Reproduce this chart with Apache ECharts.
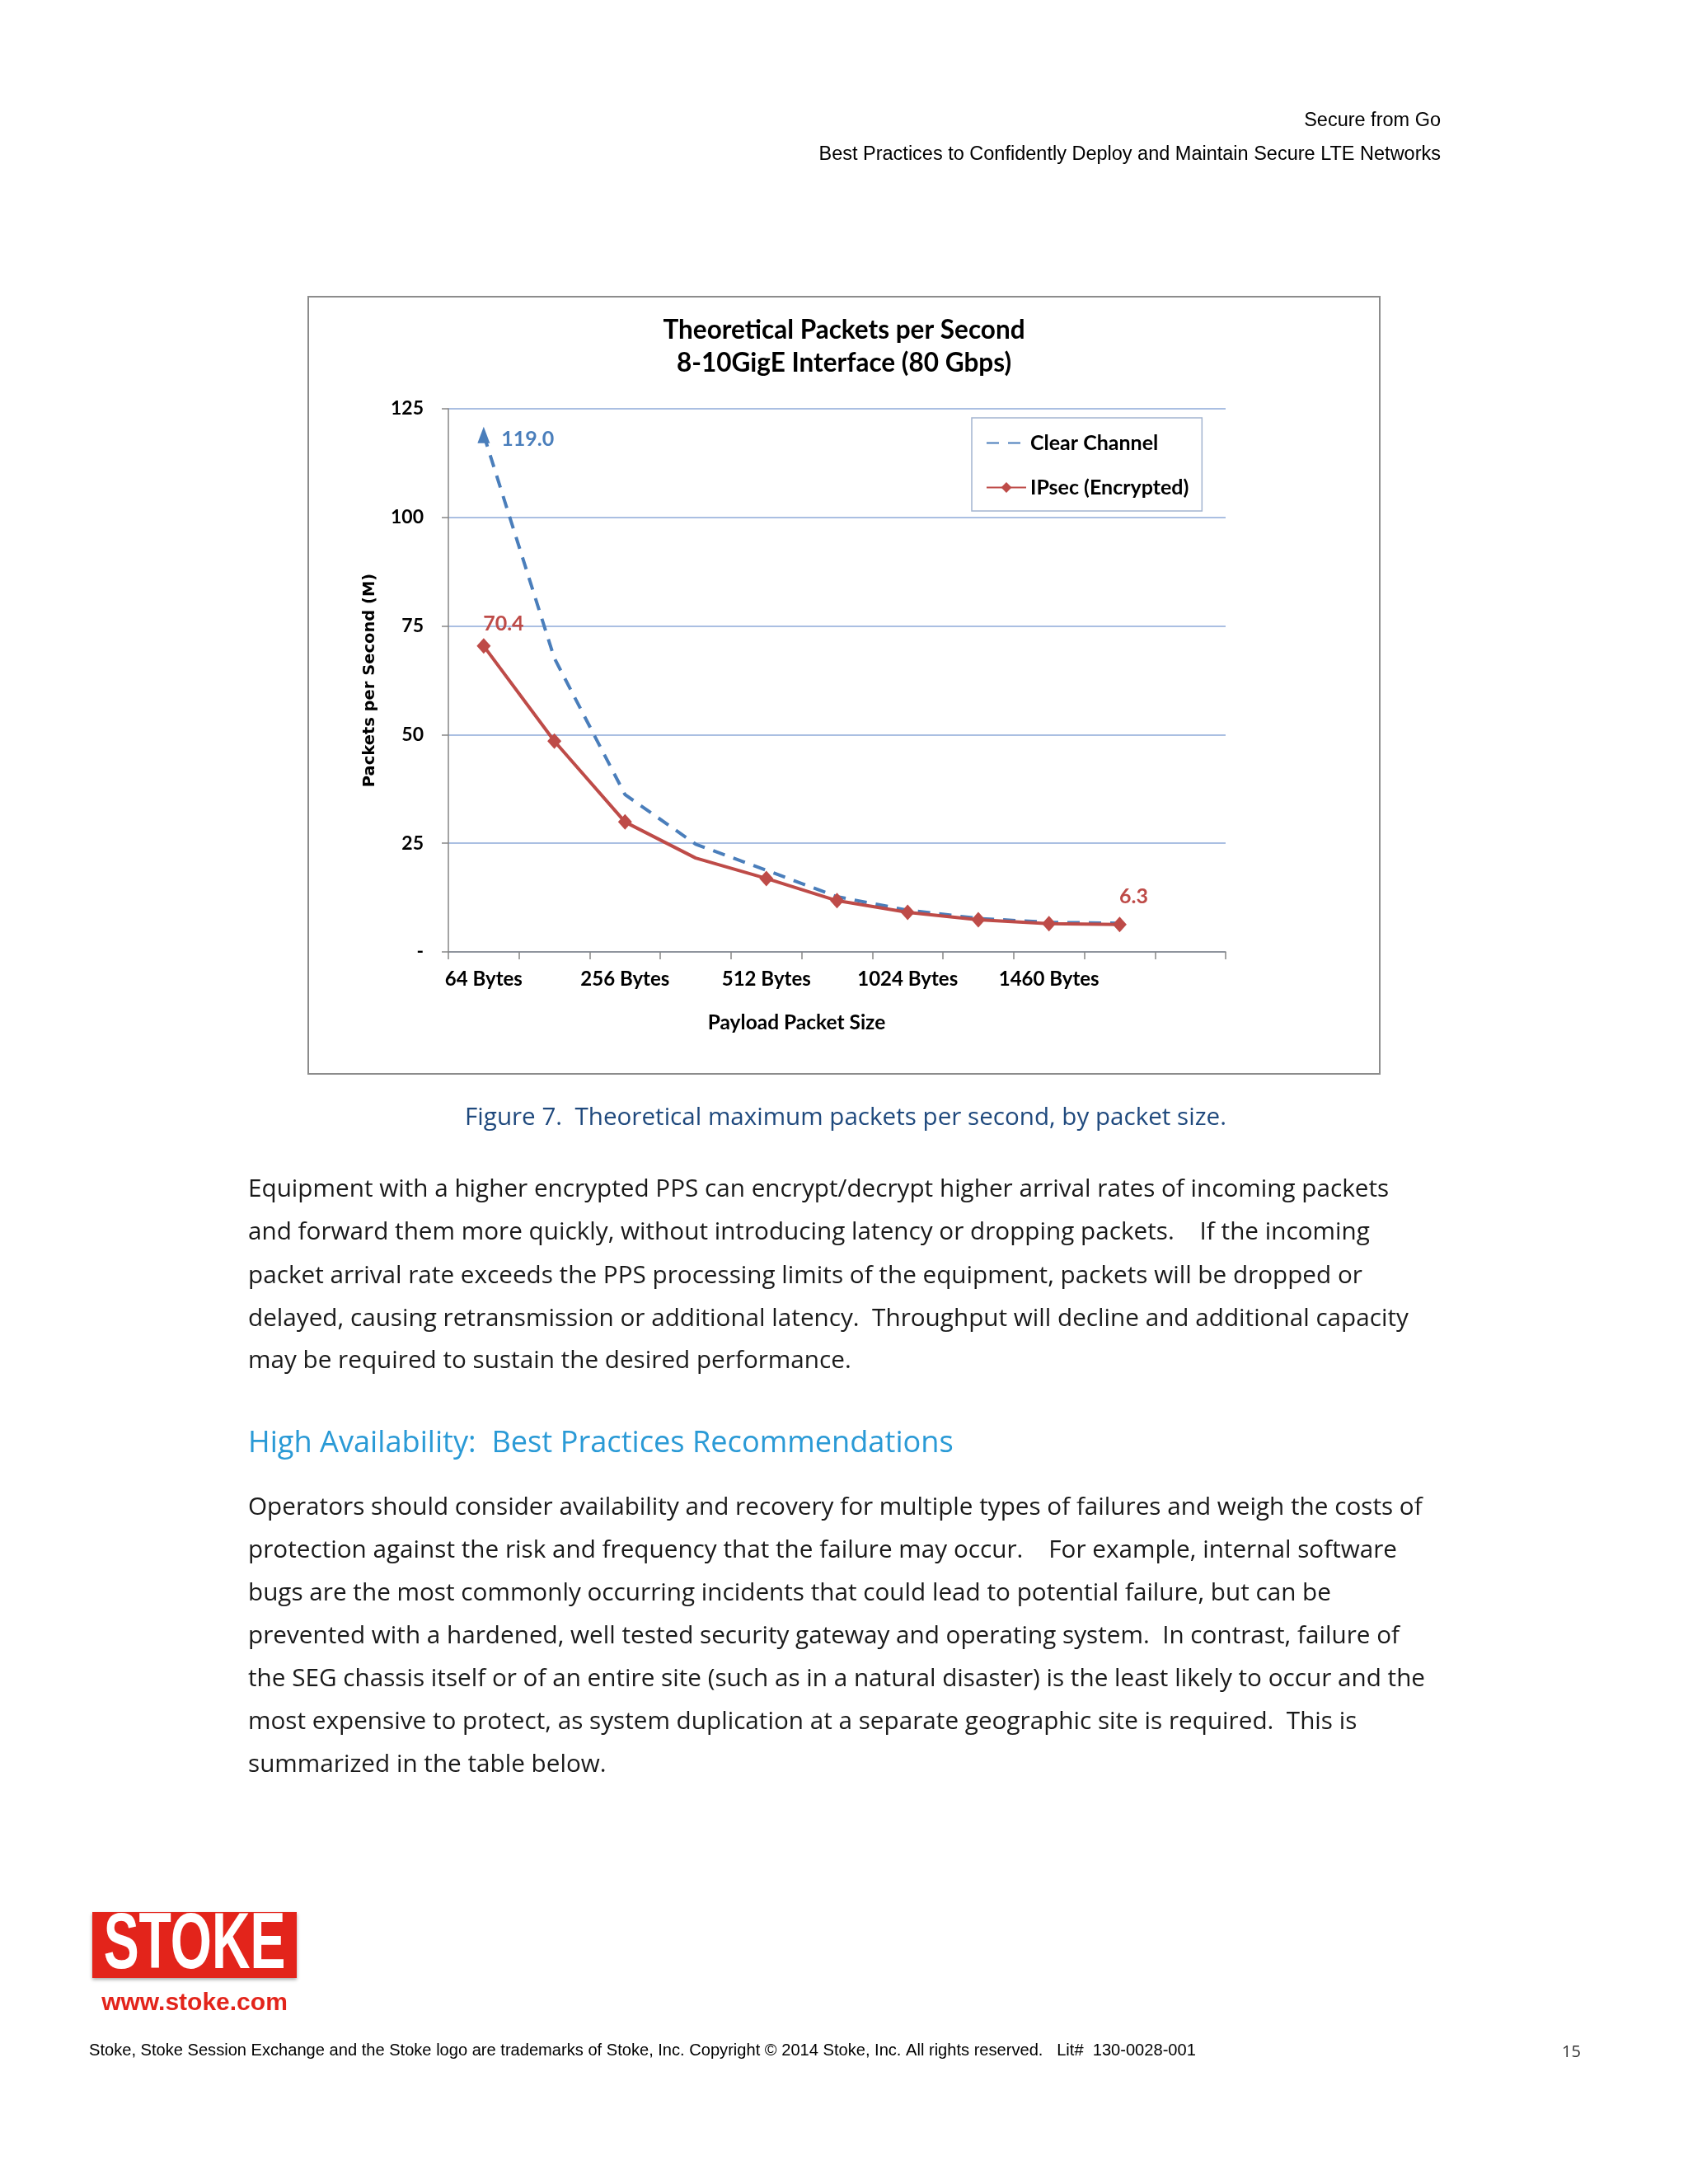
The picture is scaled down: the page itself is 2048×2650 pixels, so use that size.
<!DOCTYPE html>
<html>
<head>
<meta charset="utf-8">
<script src="https://cdn.jsdelivr.net/npm/echarts@6/dist/echarts.min.js"></script>
<style>
html,body{margin:0;padding:0;background:#fff;}
#chart{width:2048px;height:2650px;}
</style>
</head>
<body>
<div id="chart"></div>
<script>
// ---- data ----
const categories = ['64 Bytes', '', '256 Bytes', '', '512 Bytes', '', '1024 Bytes', '', '1460 Bytes', '', ''];
const clearChannel = [119.0, 67.6, 36.2, 24.8, 18.8, 12.7, 9.6, 7.7, 6.8, 6.6];
const ipsec = [70.4, 48.5, 29.9, 21.6, 16.9, 11.8, 9.1, 7.4, 6.5, 6.3];
const yTicks = [0, 25, 50, 75, 100, 125];
const seriesNames = ['Clear Channel', 'IPsec (Encrypted)'];
const chartTitle = 'Theoretical Packets per Second\n8-10GigE Interface (80 Gbps)';
const xName = 'Payload Packet Size';
const yName = 'Packets per Second (M)';

const headerLines = ['Secure from Go', 'Best Practices to Confidently Deploy and Maintain Secure LTE Networks'];
const caption = 'Figure 7.  Theoretical maximum packets per second, by packet size.';
const para1 = [
  'Equipment with a higher encrypted PPS can encrypt/decrypt higher arrival rates of incoming packets',
  'and forward them more quickly, without introducing latency or dropping packets.    If the incoming',
  'packet arrival rate exceeds the PPS processing limits of the equipment, packets will be dropped or',
  'delayed, causing retransmission or additional latency.  Throughput will decline and additional capacity',
  'may be required to sustain the desired performance.'
];
const heading = 'High Availability:  Best Practices Recommendations';
const para2 = [
  'Operators should consider availability and recovery for multiple types of failures and weigh the costs of',
  'protection against the risk and frequency that the failure may occur.    For example, internal software',
  'bugs are the most commonly occurring incidents that could lead to potential failure, but can be',
  'prevented with a hardened, well tested security gateway and operating system.  In contrast, failure of',
  'the SEG chassis itself or of an entire site (such as in a natural disaster) is the least likely to occur and the',
  'most expensive to protect, as system duplication at a separate geographic site is required.  This is',
  'summarized in the table below.'
];
const logoText = 'STOKE';
const logoUrl = 'www.stoke.com';
const footer = 'Stoke, Stoke Session Exchange and the Stoke logo are trademarks of Stoke, Inc. Copyright \u00a9 2014 Stoke, Inc. All rights reserved.   Lit#  130-0028-001';
const pageNo = '15';

// ---- styles ----
const BLUE = '#4A7EBB';
const RED = '#BE4B48';
const CAL = 'Lato, "Open Sans", sans-serif';
const BODY = '"Open Sans", "Noto Sans", sans-serif';
const ARIAL = '"Liberation Sans", Arial, sans-serif';

function txt(text, x, y, font, fill, align, extra) {
  return Object.assign({
    type: 'text', x: x, y: y, silent: true,
    style: { text: text, font: font, fill: fill, textAlign: align || 'left', align: align || 'left',
             textVerticalAlign: 'middle', verticalAlign: 'middle' }
  }, extra || {});
}

const graphics = [];
// chart frame
graphics.push({ type: 'rect', shape: { x: 374, y: 360, width: 1300, height: 943 },
  style: { fill: 'none', stroke: '#8C8C8C', lineWidth: 2 }, silent: true, z: -1 });
// header
graphics.push(txt(headerLines[0], 1748, 147, '23.5px ' + ARIAL, '#000', 'right'));
graphics.push(txt(headerLines[1], 1748, 188, '23.5px ' + ARIAL, '#000', 'right'));
// caption
graphics.push(txt(caption, 1026, 1357, '29.6px ' + BODY, '#1F497D', 'center'));
// paragraphs
const p1y = [1444, 1496, 1549, 1601, 1652];
para1.forEach((l, i) => graphics.push(txt(l, 301, p1y[i], '29.7px ' + BODY, '#1a1a1a', 'left')));
graphics.push(txt(heading, 301, 1752, '36.2px ' + BODY, '#2A9AD6', 'left'));
const p2y = [1830, 1882, 1934, 1986, 2038, 2090, 2142];
para2.forEach((l, i) => graphics.push(txt(l, 301, p2y[i], '29.7px ' + BODY, '#1a1a1a', 'left')));
// logo
graphics.push({ type: 'rect', shape: { x: 112, y: 2320, width: 248, height: 80 },
  style: { fill: '#E3241B', shadowColor: 'rgba(0,0,0,0.35)', shadowBlur: 4, shadowOffsetY: 2 }, silent: true });
graphics.push({ type: 'text', x: 236, y: 2361, scaleX: 0.7, scaleY: 1.05, silent: true,
  style: { text: logoText, font: 'bold 92px ' + ARIAL, fill: '#fff', textAlign: 'center', align: 'center',
           textVerticalAlign: 'middle', verticalAlign: 'middle', shadowColor: 'rgba(0,0,0,0.6)', shadowBlur: 2, shadowOffsetX: 2, shadowOffsetY: 2 } });
graphics.push(txt(logoUrl, 236, 2431, 'bold 30px ' + ARIAL, '#E3241B', 'center'));
// footer
graphics.push(txt(footer, 108, 2488, '20.1px ' + ARIAL, '#000', 'left'));
graphics.push(txt(pageNo, 1895, 2490, '20px ' + BODY, '#333', 'left'));

const chart = echarts.init(document.getElementById('chart'), null, { renderer: 'canvas' });
chart.setOption({
  backgroundColor: '#ffffff',
  animation: false,
  title: {
    text: chartTitle, left: 'center', top: 376,
    textStyle: { fontFamily: CAL, fontWeight: 'bold', fontSize: 31.5, lineHeight: 40, color: '#000' }
  },
  legend: {
    orient: 'vertical', left: 1179, top: 507,
    padding: [18, 16, 16, 17],
    itemWidth: 48, itemHeight: 16, itemGap: 29,
    borderColor: '#A3B4D0', borderWidth: 1.5, backgroundColor: '#fff',
    textStyle: { fontFamily: CAL, fontWeight: 'bold', fontSize: 25, lineHeight: 24, color: '#000' },
    data: [
      { name: seriesNames[0], itemStyle: { opacity: 0 } },
      { name: seriesNames[1] }
    ]
  },
  grid: { left: 544, right: 561, top: 496, bottom: 1495, containLabel: false },
  xAxis: {
    type: 'category', data: categories, boundaryGap: true,
    name: xName, nameLocation: 'middle', nameGap: 74,
    nameTextStyle: { fontFamily: CAL, fontWeight: 'bold', fontSize: 24.5, color: '#000', padding: [0, 98, 0, 0] },
    axisLine: { lineStyle: { color: '#868686', width: 1.5 } },
    axisTick: { show: true, interval: 0, length: 9, lineStyle: { color: '#868686', width: 1.5 } },
    axisLabel: { interval: 0, margin: 21, fontFamily: CAL, fontWeight: 'bold', fontSize: 24, color: '#000' },
    splitLine: { show: false }
  },
  yAxis: {
    type: 'value', min: yTicks[0], max: yTicks[yTicks.length - 1], interval: 25,
    name: yName, nameLocation: 'middle', nameGap: 85, nameRotate: 90,
    nameTextStyle: { fontFamily: '"DejaVu Sans", sans-serif', fontWeight: 'bold', fontSize: 19.5, color: '#000' },
    axisLine: { show: true, lineStyle: { color: '#868686', width: 1.5 } },
    axisTick: { show: true, length: 8, lineStyle: { color: '#868686', width: 1.5 } },
    axisLabel: { margin: 30, fontFamily: CAL, fontWeight: 'bold', fontSize: 23, color: '#000',
      formatter: v => (v === 0 ? '-' : String(v)) },
    splitLine: { show: true, lineStyle: { color: '#8EAAD8', width: 1.5 } }
  },
  series: [
    {
      name: seriesNames[0], type: 'line', symbol: 'none',
      lineStyle: { color: BLUE, width: 4, type: [15, 11] },
      itemStyle: { color: BLUE },
      z: 3,
      data: clearChannel.map((v, i) => i === 0 ? {
        value: v, symbol: 'triangle', symbolSize: [15, 20], itemStyle: { color: BLUE, opacity: 1 },
        label: { show: true, position: 'right', distance: 14, offset: [0, 5], formatter: p => p.value.toFixed(1),
          fontFamily: CAL, fontWeight: 'bold', fontSize: 25, color: BLUE }
      } : v)
    },
    {
      name: seriesNames[1], type: 'line', symbol: 'diamond', symbolSize: [17, 19],
      lineStyle: { color: RED, width: 4 },
      itemStyle: { color: RED },
      z: 4,
      data: ipsec.map((v, i) => {
        if (i === 3) return { value: v, symbol: 'none' };
        if (i === 0) return { value: v, label: { show: true, position: 'top', distance: 5, offset: [24, 0],
          formatter: p => p.value.toFixed(1), fontFamily: CAL, fontWeight: 'bold', fontSize: 25, color: RED } };
        if (i === ipsec.length - 1) return { value: v, label: { show: true, position: 'top', distance: 12, offset: [17, 0],
          formatter: p => p.value.toFixed(1), fontFamily: CAL, fontWeight: 'bold', fontSize: 25, color: RED } };
        return v;
      })
    }
  ],
  graphic: graphics
});
</script>
</body>
</html>
